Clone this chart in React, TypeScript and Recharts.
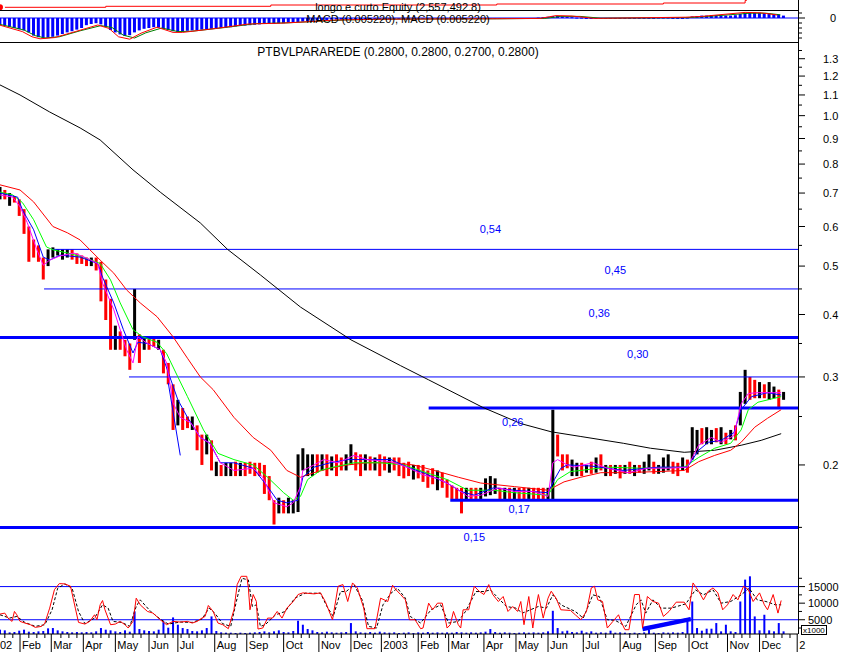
import React from 'react';
import { ComposedChart, Bar, Line, XAxis, YAxis, ReferenceLine, ReferenceDot } from 'recharts';

// one sampled bar every STEP trading sessions, session 0 = mid Jan 2002
const STEP = 3;
const X_DOMAIN: [number, number] = [0, 498];

// price bars (high / low, 1 = black bar, 0 = red bar)
const barHigh = [
  0.72, 0.71, 0.70, 0.69, 0.68, 0.65, 0.60, 0.565, 0.55, 0.52,
  0.54, 0.545, 0.54, 0.54, 0.54, 0.54, 0.53, 0.525, 0.52, 0.52,
  0.52, 0.51, 0.47, 0.43, 0.38, 0.37, 0.356, 0.35, 0.45, 0.365,
  0.36, 0.36, 0.36, 0.356, 0.34, 0.32, 0.29, 0.27, 0.26, 0.25,
  0.25, 0.24, 0.23, 0.23, 0.224, 0.203, 0.20, 0.202, 0.202, 0.203,
  0.202, 0.202, 0.203, 0.202, 0.202, 0.20, 0.19, 0.17, 0.172, 0.17,
  0.172, 0.17, 0.21, 0.216, 0.21, 0.21, 0.21, 0.21, 0.21, 0.208,
  0.21, 0.207, 0.21, 0.22, 0.212, 0.21, 0.21, 0.208, 0.207, 0.21,
  0.208, 0.207, 0.207, 0.207, 0.202, 0.203, 0.20, 0.20, 0.20, 0.195,
  0.197, 0.195, 0.193, 0.187, 0.182, 0.18, 0.18, 0.18, 0.18, 0.18,
  0.18, 0.188, 0.19, 0.188, 0.18, 0.18, 0.18, 0.18, 0.18, 0.18,
  0.18, 0.18, 0.18, 0.18, 0.18, 0.258, 0.23, 0.21, 0.21, 0.205,
  0.202, 0.202, 0.20, 0.203, 0.207, 0.21, 0.20, 0.20, 0.20, 0.20,
  0.20, 0.203, 0.20, 0.20, 0.203, 0.21, 0.203, 0.20, 0.207, 0.21,
  0.203, 0.202, 0.207, 0.205, 0.238, 0.235, 0.237, 0.238, 0.235, 0.237,
  0.238, 0.232, 0.235, 0.24, 0.28, 0.31, 0.30, 0.296, 0.293, 0.29,
  0.293, 0.287, 0.283, 0.28,
];
const barLow = [
  0.68, 0.68, 0.66, 0.67, 0.63, 0.58, 0.51, 0.52, 0.51, 0.47,
  0.50, 0.52, 0.525, 0.515, 0.52, 0.515, 0.505, 0.505, 0.50, 0.50,
  0.49, 0.425, 0.39, 0.34, 0.34, 0.34, 0.33, 0.31, 0.356, 0.32,
  0.34, 0.34, 0.345, 0.34, 0.305, 0.29, 0.235, 0.24, 0.235, 0.237,
  0.235, 0.214, 0.20, 0.21, 0.195, 0.19, 0.19, 0.19, 0.19, 0.19,
  0.19, 0.19, 0.192, 0.19, 0.19, 0.175, 0.17, 0.152, 0.16, 0.16,
  0.16, 0.16, 0.161, 0.195, 0.19, 0.19, 0.193, 0.195, 0.19, 0.195,
  0.19, 0.195, 0.195, 0.20, 0.195, 0.19, 0.195, 0.195, 0.195, 0.19,
  0.195, 0.193, 0.195, 0.19, 0.188, 0.19, 0.187, 0.188, 0.185, 0.18,
  0.183, 0.178, 0.18, 0.172, 0.171, 0.17, 0.16, 0.17, 0.171, 0.17,
  0.171, 0.173, 0.174, 0.175, 0.171, 0.17, 0.171, 0.17, 0.171, 0.17,
  0.171, 0.17, 0.17, 0.17, 0.17, 0.17, 0.208, 0.195, 0.197, 0.19,
  0.19, 0.19, 0.193, 0.192, 0.193, 0.195, 0.19, 0.19, 0.192, 0.188,
  0.192, 0.192, 0.19, 0.193, 0.192, 0.195, 0.192, 0.192, 0.193, 0.195,
  0.192, 0.19, 0.195, 0.193, 0.205, 0.21, 0.22, 0.22, 0.22, 0.222,
  0.22, 0.22, 0.225, 0.224, 0.24, 0.265, 0.27, 0.272, 0.272, 0.272,
  0.27, 0.272, 0.26, 0.27,
];
const barUp = [
  1, 0, 1, 0, 0, 0, 0, 0, 0, 0,
  1, 1, 1, 1, 1, 0, 0, 0, 0, 1,
  0, 0, 0, 0, 1, 0, 0, 0, 1, 0,
  1, 0, 0, 1, 0, 0, 0, 1, 0, 0,
  1, 0, 0, 1, 0, 1, 0, 1, 1, 0,
  1, 0, 0, 0, 0, 0, 0, 0, 1, 0,
  1, 1, 1, 1, 1, 1, 0, 1, 0, 1,
  0, 0, 1, 1, 0, 0, 1, 0, 1, 0,
  0, 1, 0, 0, 0, 0, 1, 0, 0, 0,
  0, 1, 0, 0, 0, 0, 0, 1, 0, 0,
  1, 1, 1, 1, 0, 1, 0, 1, 0, 0,
  1, 0, 0, 0, 1, 1, 0, 0, 0, 1,
  1, 0, 1, 0, 1, 0, 1, 0, 1, 0,
  1, 0, 1, 0, 1, 1, 0, 1, 1, 1,
  0, 0, 1, 0, 1, 1, 0, 1, 1, 0,
  1, 0, 1, 0, 1, 1, 0, 0, 1, 0,
  1, 1, 0, 1,
];

// volume (x1000), same sampling as the bars
const volume = [
  2000, 1800, 1200, 1300, 1700, 2000, 1400, 1300, 1500, 1600,
  2400, 2500, 1800, 1500, 1300, 1200, 1300, 1200, 1300, 1200,
  1500, 2500, 2000, 1800, 1500, 1300, 1800, 1400, 7500, 2200,
  1800, 1600, 1500, 2000, 4500, 2600, 5700, 3500, 2500, 2200,
  1600, 1500, 1800, 2500, 6000, 1600, 1200, 1100, 1100, 1000,
  1100, 1000, 1100, 1200, 1300, 1500, 1200, 1500, 1800, 1300,
  1200, 1600, 4700, 3500, 2200, 1800, 1300, 1200, 1400, 1200,
  1100, 1200, 1300, 4000, 1500, 1200, 1100, 1300, 1100, 1400,
  1200, 1100, 1200, 1000, 1100, 1200, 1000, 1200, 1100, 1300,
  1100, 1200, 1100, 1200, 1100, 1300, 1200, 1100, 1200, 1100,
  1200, 1400, 2200, 1300, 1100, 1200, 1100, 1000, 1100, 1200,
  1100, 1200, 1100, 1200, 1500, 7700, 2500, 1500, 1700, 1300,
  1200, 1700, 1200, 1500, 1100, 1200, 1100, 1700, 1100, 1200,
  1100, 1000, 1100, 1000, 1200, 1900, 1100, 1000, 1200, 1100,
  1200, 1100, 1300, 4500, 10500, 2500, 1700, 2300, 2300, 4000,
  1500, 3500, 1500, 1300, 10500, 17100, 18100, 6000, 1800, 6500,
  1800, 1500, 4000, 1500,
];

// MACD histogram, same sampling as the bars
const macdHist = [
  -0.017, -0.019, -0.022, -0.025, -0.028, -0.031, -0.036, -0.044, -0.048, -0.05,
  -0.049, -0.047, -0.044, -0.04, -0.036, -0.033, -0.029, -0.025, -0.018, -0.015,
  -0.013, -0.016, -0.022, -0.03, -0.036, -0.041, -0.045, -0.043, -0.036, -0.031,
  -0.027, -0.025, -0.023, -0.024, -0.027, -0.03, -0.033, -0.035, -0.034, -0.032,
  -0.031, -0.03, -0.029, -0.028, -0.027, -0.026, -0.025, -0.024, -0.023, -0.021,
  -0.02, -0.019, -0.018, -0.017, -0.016, -0.015, -0.014, -0.014, -0.013, -0.013,
  -0.012, -0.011, -0.01, -0.009, -0.008, -0.007, -0.006, -0.005, -0.005, -0.004,
  -0.004, -0.004, -0.003, -0.003, -0.003, -0.002, -0.003, -0.002, -0.002, -0.003,
  -0.002, -0.002, -0.003, -0.002, -0.002, -0.002, -0.003, -0.002, -0.002, -0.003,
  -0.003, -0.002, -0.003, -0.003, -0.003, -0.003, -0.003, -0.002, -0.002, -0.002,
  -0.001, -0.001, -0.001, -0.002, -0.002, -0.002, -0.002, -0.002, -0.002, -0.002,
  -0.002, -0.001, 0.001, 0.002, 0.003, 0.005, 0.005, 0.004, 0.003, 0.002,
  0.001, 0.001, 0, -0.001, -0.001, -0.001, -0.001, -0.001, -0.001, -0.001,
  -0.001, -0.001, -0.001, -0.001, 0, 0, 0, 0.001, 0.001, 0.001,
  0, 0, 0, 0.001, 0.004, 0.005, 0.006, 0.006, 0.007, 0.007,
  0.006, 0.006, 0.006, 0.007, 0.01, 0.012, 0.013, 0.013, 0.013, 0.012,
  0.011, 0.01, 0.008, 0.006,
];

// [session, value] series
const macdLine = [
  [0, -0.018], [14, -0.034], [20, -0.047], [25, -0.052], [34, -0.049], [47, -0.034], [61, -0.0175],
  [68, -0.026], [74, -0.047], [81, -0.053], [88, -0.038], [98, -0.023], [108, -0.036], [114, -0.036],
  [135, -0.026], [155, -0.015], [175, -0.013], [189, -0.01], [209, -0.005], [236, -0.003], [303, -0.002],
  [337, -0.001], [347, 0.006], [357, 0.005], [371, -0.001], [428, 0.002], [438, 0.004], [465, 0.014],
  [475, 0.013], [485, 0.0075],
];
const macdSignal = [
  [0, -0.016], [15, -0.03], [22, -0.044], [28, -0.05], [37, -0.047], [50, -0.032], [63, -0.019],
  [70, -0.024], [77, -0.043], [84, -0.05], [91, -0.037], [101, -0.025], [111, -0.034], [120, -0.033],
  [140, -0.024], [160, -0.014], [180, -0.012], [195, -0.009], [215, -0.005], [240, -0.003], [310, -0.002],
  [340, -0.001], [350, 0.004], [362, 0.004], [375, -0.0005], [430, 0.001], [442, 0.004], [468, 0.012],
  [478, 0.012], [487, 0.008],
];
const equity = [
  [0, 729000], [66, 999000], [169, 1350000], [310, 1620000], [414, 1890000], [465, 2557492.8], [466, 2557492.8],
];

const ma200 = [
  [0, 1.152], [12.5, 1.10], [31, 1.017], [50, 0.945], [62.5, 0.894], [83, 0.779], [100, 0.703], [125, 0.61],
  [142, 0.54], [162.5, 0.48], [187.5, 0.414], [219, 0.356], [250, 0.316], [267.5, 0.296], [301, 0.261],
  [325, 0.242], [344, 0.233], [362.5, 0.228], [389, 0.221], [406, 0.216], [427, 0.212], [446, 0.214],
  [462.5, 0.219], [475, 0.224], [487.5, 0.231],
];
const maRed = [
  [0, 0.727], [12.5, 0.71], [21, 0.672], [33, 0.6], [42, 0.583], [50, 0.564], [62.5, 0.514], [71, 0.484],
  [79, 0.448], [87.5, 0.422], [98, 0.396], [108, 0.361], [117, 0.327], [125, 0.3], [133, 0.283], [146, 0.249],
  [158, 0.227], [169, 0.214], [179, 0.195], [187.5, 0.189], [196, 0.193], [206, 0.197], [217, 0.2],
  [229, 0.202], [244, 0.202], [258, 0.2], [271, 0.195], [286, 0.189], [300, 0.184], [321, 0.181],
  [342, 0.178], [352, 0.185], [362.5, 0.189], [375, 0.193], [389, 0.193], [411, 0.194], [427, 0.195],
  [436, 0.203], [446, 0.209], [456, 0.214], [462.5, 0.222], [471, 0.238], [479, 0.248], [487.5, 0.258],
];
const maGreen = [
  [0, 0.703], [8, 0.694], [14, 0.67], [21, 0.619], [29, 0.546], [33, 0.539], [42, 0.531], [52, 0.521],
  [62.5, 0.506], [69, 0.469], [75, 0.422], [83, 0.373], [89, 0.361], [98, 0.352], [104, 0.334], [111, 0.3],
  [117, 0.274], [127, 0.235], [136, 0.211], [146, 0.205], [158, 0.2], [167, 0.189], [177, 0.176],
  [183, 0.17], [187.5, 0.173], [192, 0.187], [200, 0.195], [208, 0.198], [221, 0.202], [237.5, 0.202],
  [252, 0.2], [264, 0.194], [279, 0.187], [292, 0.178], [308, 0.178], [321, 0.176], [342, 0.174],
  [348, 0.187], [356, 0.194], [362.5, 0.195], [379, 0.198], [400, 0.197], [427, 0.198], [436, 0.207],
  [446, 0.216], [456, 0.221], [462.5, 0.235], [467, 0.258], [473, 0.267], [487.5, 0.274],
];
const maBlue = [
  [0, 0.7], [11, 0.687], [14, 0.648], [21, 0.591], [27, 0.521], [31, 0.514], [37.5, 0.526], [50, 0.521],
  [61, 0.506], [64, 0.475], [71, 0.422], [77, 0.373], [83, 0.335], [86, 0.352], [92, 0.35], [100, 0.34],
  [106, 0.3], [111, 0.27], [117, 0.249], [125, 0.227], [131, 0.221], [137.5, 0.202], [146, 0.202],
  [158, 0.197], [167, 0.181], [173, 0.17], [179, 0.168], [186, 0.17], [189, 0.189], [196, 0.198],
  [206, 0.202], [217, 0.205], [229, 0.205], [244, 0.205], [254, 0.198], [264, 0.193], [279, 0.184],
  [287.5, 0.177], [296, 0.174], [308, 0.18], [321, 0.178], [342, 0.176], [346, 0.187], [350, 0.197],
  [354, 0.2], [369, 0.199], [389, 0.195], [411, 0.198], [429, 0.198], [436, 0.214], [442, 0.222],
  [450, 0.224], [458, 0.232], [462.5, 0.258], [469, 0.274], [479, 0.279], [487.5, 0.276],
];
const maMagenta = [
  [0, 0.694], [8, 0.687], [12.5, 0.657], [17, 0.611], [23, 0.539], [27, 0.502], [31, 0.514], [37.5, 0.524],
  [46, 0.531], [54, 0.519], [61, 0.506], [64, 0.462], [71, 0.409], [79, 0.34], [83, 0.32], [86, 0.361],
  [92, 0.35], [100, 0.34], [104, 0.32], [108, 0.266], [112.5, 0.249], [119, 0.243], [125, 0.227],
  [131, 0.221], [137.5, 0.202], [146, 0.195], [158, 0.197], [164, 0.189], [171, 0.168], [179, 0.165],
  [183, 0.168], [187.5, 0.181], [189, 0.195], [196, 0.2], [202, 0.205], [211, 0.202], [221, 0.209],
  [229, 0.205], [244, 0.203], [254, 0.198], [264, 0.191], [273, 0.188], [283, 0.181], [292, 0.173],
  [300, 0.174], [311, 0.18], [321, 0.177], [333, 0.177], [342, 0.173], [345, 0.202], [348, 0.205],
  [354, 0.2], [358, 0.198], [370, 0.202], [379, 0.197], [392, 0.193], [404, 0.197], [417, 0.197],
  [429, 0.198], [436, 0.219], [444, 0.227], [450, 0.222], [458, 0.229], [462.5, 0.265], [467, 0.278],
  [473, 0.279], [483, 0.279], [487.5, 0.279],
];
const trendPrice = [[105, 0.292], [112.5, 0.209]];

const oscRed = [
  [0, 6700], [3, 7000], [5, 5500], [7.5, 4500], [9, 7500], [10.5, 6500], [12.5, 4500], [15.5, 4000],
  [19, 3500], [22, 2700], [26, 3000], [28, 4000], [31, 8500], [34, 14100], [37, 15900], [40.5, 15800],
  [44, 15100], [47, 8500], [49, 4200], [53, 3700], [56, 4500], [59, 6500], [60.5, 5000], [62.5, 9500],
  [64, 10800], [65.5, 8000], [69, 3500], [72, 3700], [75, 4500], [78, 3500], [80, 2500], [83, 4500],
  [85, 11500], [87.5, 9500], [92, 7500], [95.5, 7000], [100, 5000], [104, 3500], [108, 4500],
  [112.5, 4300], [117, 4500], [120, 4000], [123, 4500], [126, 5500], [128, 6000], [130, 9300], [133, 7500],
  [136, 4000], [139, 3500], [142.5, 2300], [146, 8000], [148, 15600], [150.5, 18100], [154, 18100],
  [155, 14600], [156, 8000], [158, 12600], [160, 10500], [161, 2200], [164, 2500], [167, 5500], [170, 5500],
  [173, 7500], [176, 5500], [179, 8500], [183, 10500], [186, 12600], [189, 13100], [196, 12800],
  [200, 13100], [203, 10500], [207.5, 5000], [211, 15100], [214, 15600], [217, 10500], [220, 16100],
  [223, 14600], [227, 8500], [229, 2300], [234, 2300], [237.5, 11500], [242, 10500], [245, 15400],
  [247, 14100], [250, 12600], [253, 11000], [255.5, 5000], [259, 5000], [262.5, 2300], [264, 2500],
  [267.5, 10000], [270, 8000], [273, 10000], [276, 10000], [279, 2500], [281, 3500], [283, 7500],
  [286, 3500], [287.5, 2500], [289, 8000], [292.5, 8000], [296, 15100], [299, 13600], [302, 12600],
  [305, 15600], [307.5, 12600], [311, 10500], [314, 12000], [317, 7500], [320, 9000], [323, 7500],
  [325, 10500], [327, 3500], [330, 12000], [332.5, 2500], [334, 7500], [336, 12600], [339, 5500],
  [342, 11500], [344, 13600], [347, 11500], [350, 8000], [356, 7800], [359, 6500], [362.5, 5000],
  [366, 7500], [369, 14600], [371, 15100], [373, 11000], [376, 10500], [379, 2500], [382.5, 4500],
  [386, 6500], [387.5, 4500], [390, 2000], [392.5, 2000], [396, 12600], [399, 12600], [401, 2500],
  [404, 12000], [407.5, 10500], [411, 10000], [414, 6000], [417.5, 7500], [422, 10300], [427, 10300],
  [430, 8000], [432.5, 16100], [436, 13600], [439, 11000], [442, 13600], [445, 14600], [448, 13100],
  [451, 8000], [454, 9500], [457.5, 12600], [460.5, 11000], [464, 15100], [467, 14100], [470, 10500],
  [474, 13100], [477, 9500], [479, 8000], [482.5, 12600], [485.5, 7000], [487.5, 10800],
];
const oscBlack = [
  [0, 6500], [6, 5500], [10.5, 6000], [15.5, 4200], [22, 3000], [28, 3500], [32.5, 8000], [36, 14500],
  [40.5, 15800], [45, 14500], [49, 7500], [53, 3800], [59, 5500], [64, 9500], [67.5, 8500], [70.5, 4500],
  [76, 4200], [81, 3000], [85, 9000], [87.5, 11000], [94, 7500], [100, 5200], [105, 3700], [112.5, 4300],
  [120, 4200], [126, 5200], [130.5, 8500], [134, 7000], [139, 3800], [144, 3000], [147.5, 10500],
  [151, 17500], [155, 17000], [157.5, 9000], [160, 9500], [162.5, 3000], [165.5, 3500], [172, 6500],
  [178, 7500], [184, 11500], [190.5, 13000], [200, 13000], [204, 9000], [208, 6000], [212.5, 13500],
  [216, 13500], [221, 15500], [226, 11000], [230, 3000], [235, 2500], [239, 9500], [244, 13000],
  [248, 14500], [253, 11500], [256, 6000], [262.5, 4000], [269, 8000], [275, 9500], [280, 4000],
  [286, 4500], [290.5, 7500], [297, 13500], [302, 13500], [306, 14000], [311, 11500], [316, 9000],
  [322, 8500], [326, 7000], [331, 8000], [336, 9000], [341, 8500], [345, 12500], [350, 9500],
  [359, 7500], [364, 5500], [370, 12500], [374, 12000], [379, 5000], [384, 4800], [390.5, 3000],
  [397, 9500], [400, 11000], [403, 7000], [407.5, 11000], [412.5, 8500], [419, 8500], [428, 9800],
  [434, 14000], [439, 12500], [445, 14000], [450, 10000], [456, 10500], [462.5, 12500], [467.5, 14500],
  [472.5, 11000], [478, 10500], [484, 9500], [487.5, 9500],
];
const volTrendA = [[401, 2100], [431, 5100]];
const volTrendB = [[401, 2600], [431, 5500]];

// horizontal support / resistance levels
const levelPrices = [0.54, 0.45, 0.36, 0.3, 0.26, 0.17, 0.15];
const levelStart = [32.5, 27.5, 0, 80.5, 267.5, 281, 0];
const thickLevels = [0.36, 0.26, 0.17, 0.15];
const levelText = ['0,54', '0,45', '0,36', '0,30', '0,26', '0,17', '0,15'];
const levelTextAt = [[306, 0.593], [384, 0.491], [374, 0.403], [398, 0.333], [320, 0.244], [324, 0.163], [296, 0.1435]];

// axis ticks
const monthTicks = [12.5, 32, 52, 72, 93, 111, 134, 154, 177, 199, 219, 238, 261, 280, 302, 322, 342, 364, 387, 409, 430, 454, 474, 497.5];
const monthLabels = ['Feb', 'Mar', 'Apr', 'May', 'Jun', 'Jul', 'Aug', 'Sep', 'Oct', 'Nov', 'Dec', '2003', 'Feb', 'Mar', 'Apr', 'May', 'Jun', 'Jul', 'Aug', 'Sep', 'Oct', 'Nov', 'Dec', '2'];
const priceLabels = [0.2, 0.3, 0.4, 0.5, 0.6, 0.7, 0.8, 0.9, 1.0, 1.1, 1.2, 1.3];
const priceMinor = [0.15, 0.25, 0.35, 0.45, 0.55, 0.65, 0.75, 0.85, 0.95, 1.05, 1.15, 1.25, 1.35];
const oscLabels = [5000, 10000, 15000];
const oscMinor = [2500, 7500, 12500, 17500];
const macdTicks = [-0.05, -0.0375, -0.025, -0.0125, 0, 0.0125];

const W = 845;
const PLOT_W = 798;
const AXIS_W = W - PLOT_W;
const FONT = '"Liberation Sans", Arial, sans-serif';
const BLUE = '#0000ff';
const RED = '#ff0000';
const noMargin = { top: 0, right: 0, bottom: 0, left: 0 };

const pairs = (arr: number[][]) => arr.map(([s, v]) => ({ s, v }));
const weekTicks: number[] = [];
for (let s = 3; s < 497; s += 5) {
  if (!monthTicks.some((m) => Math.abs(m - s) < 1.5)) weekTicks.push(s);
}

const barRows = barHigh.map((h, i) => ({ s: i * STEP, range: [barLow[i], h], up: barUp[i] }));
const volRows = volume.map((v, i) => ({ s: i * STEP, vol: v }));
const macdRows = macdHist.map((v, i) => ({ s: i * STEP, hist: v }));

// bars keep a fixed pixel width, whatever band size recharts derives from the line data
const fixedBar = (w: number, color?: (p: any) => string) => (props: any) => {
  const { x, y, width, height, payload, fill } = props;
  if (x == null || y == null) return <g />;
  const cx = x + width / 2;
  const top = Math.min(y, y + height);
  const h = Math.max(Math.abs(height), 1);
  return <rect x={cx - w / 2} y={top} width={w} height={h} fill={color ? color(payload) : fill} />;
};

const PriceTick = (props: any) => {
  const { x, y, payload } = props;
  const major = priceLabels.includes(payload.value);
  return (
    <g>
      <line x1={x} y1={y} x2={x + (major ? 7 : 4)} y2={y} stroke="#000" />
      {major && (
        <text x={x + 25} y={y + 4} fontSize={11} fill="#000">
          {payload.value.toFixed(1)}
        </text>
      )}
    </g>
  );
};

const OscTick = (props: any) => {
  const { x, y, payload } = props;
  const major = oscLabels.includes(payload.value);
  return (
    <g>
      <line x1={x} y1={y} x2={x + (major ? 7 : 4)} y2={y} stroke="#000" />
      {major && (
        <text x={x + 10} y={y + 4} fontSize={11} fill="#000">
          {payload.value}
        </text>
      )}
    </g>
  );
};

const MacdTick = (props: any) => {
  const { x, y, payload } = props;
  const zero = payload.value === 0;
  return (
    <g>
      <line x1={x} y1={y} x2={x + (zero ? 7 : 4)} y2={y} stroke="#000" />
      {zero && (
        <text x={x + 32} y={y + 4} fontSize={11} fill="#000">
          0
        </text>
      )}
    </g>
  );
};

const DateTick = (props: any) => {
  const { x, y, payload } = props;
  if (payload.value === 0) {
    return (
      <text x={x} y={y + 15} fontSize={11} fill="#000">
        02
      </text>
    );
  }
  const idx = monthTicks.indexOf(payload.value);
  if (idx < 0) return <line x1={x} y1={y} x2={x} y2={y + 4} stroke="#000" />;
  return (
    <g>
      <line x1={x} y1={y} x2={x} y2={y + 18} stroke="#000" />
      <text x={x + 2} y={y + 15} fontSize={11} fill="#000">
        {monthLabels[idx]}
      </text>
    </g>
  );
};

const hiddenX = <XAxis dataKey="s" type="number" domain={X_DOMAIN} allowDataOverflow hide />;

export default function App() {
  return (
    <div style={{ position: 'absolute', left: 0, top: 0, width: W, height: 652, background: '#fff', fontFamily: FONT, overflow: 'hidden' }}>
      {/* equity strip */}
      <div style={{ position: 'absolute', left: 0, top: 0 }}>
        <ComposedChart width={W} height={10} margin={{ ...noMargin, right: AXIS_W }}>
          {hiddenX}
          <YAxis hide domain={[0, 2700000]} allowDataOverflow />
          <Line data={pairs(equity)} dataKey="v" type="stepAfter" stroke={RED} dot={false} isAnimationActive={false} />
        </ComposedChart>
      </div>

      {/* MACD */}
      <div style={{ position: 'absolute', left: 0, top: 10 }}>
        <ComposedChart width={W} height={32} data={macdRows} margin={noMargin}>
          {hiddenX}
          <YAxis orientation="right" width={AXIS_W} domain={[-0.06, 0.02]} allowDataOverflow ticks={macdTicks} interval={0}
            tick={<MacdTick />} tickLine={false} axisLine={false} tickSize={0} tickMargin={0} />
          <Bar dataKey="hist" fill={BLUE} shape={fixedBar(3)} isAnimationActive={false} />
          <ReferenceLine y={0} stroke={BLUE} />
          <Line data={pairs(macdSignal)} dataKey="v" stroke="#008000" dot={false} isAnimationActive={false} />
          <Line data={pairs(macdLine)} dataKey="v" stroke={RED} dot={false} isAnimationActive={false} />
        </ComposedChart>
      </div>

      {/* price */}
      <div style={{ position: 'absolute', left: 0, top: 42 }}>
        <ComposedChart width={W} height={526} data={barRows} margin={noMargin}>
          {hiddenX}
          <YAxis orientation="right" width={AXIS_W} scale="log" domain={[0.1244, 1.404]} allowDataOverflow
            ticks={[...priceLabels, ...priceMinor]} interval={0} tick={<PriceTick />} tickLine={false} axisLine={false}
            tickSize={0} tickMargin={0} />
          {levelPrices.map((p, i) => (
            <ReferenceLine key={'lv' + i} segment={[{ x: levelStart[i], y: p }, { x: X_DOMAIN[1], y: p }]}
              stroke={BLUE} strokeWidth={thickLevels.includes(p) ? 3 : 1} />
          ))}
          <Bar dataKey="range" shape={fixedBar(3, (d) => (d.up ? '#000000' : RED))} isAnimationActive={false} />
          <Line data={pairs(ma200)} dataKey="v" stroke="#000" dot={false} isAnimationActive={false} />
          <Line data={pairs(maRed)} dataKey="v" stroke={RED} dot={false} isAnimationActive={false} />
          <Line data={pairs(maGreen)} dataKey="v" stroke="#00ff00" dot={false} isAnimationActive={false} />
          <Line data={pairs(maBlue)} dataKey="v" stroke={BLUE} dot={false} isAnimationActive={false} />
          <Line data={pairs(maMagenta)} dataKey="v" stroke="#ff00ff" dot={false} isAnimationActive={false} />
          <ReferenceLine segment={[{ x: trendPrice[0][0], y: trendPrice[0][1] }, { x: trendPrice[1][0], y: trendPrice[1][1] }]} stroke={BLUE} />
          {levelText.map((t, i) => (
            <ReferenceDot key={'lt' + i} x={levelTextAt[i][0]} y={levelTextAt[i][1]} r={0} stroke="none"
              label={{ value: t, position: 'center', fill: BLUE, fontSize: 11 }} />
          ))}
        </ComposedChart>
      </div>

      {/* oscillator + volume + dates */}
      <div style={{ position: 'absolute', left: 0, top: 570 }}>
        <ComposedChart width={W} height={82} data={volRows} margin={noMargin}>
          <XAxis dataKey="s" type="number" domain={X_DOMAIN} allowDataOverflow height={18}
            ticks={[0, ...monthTicks, ...weekTicks]} interval={0} tick={<DateTick />} tickLine={false}
            tickSize={0} tickMargin={0} axisLine={{ stroke: '#000' }} />
          <YAxis orientation="right" width={AXIS_W} domain={[700, 20000]} allowDataOverflow
            ticks={[...oscLabels, ...oscMinor]} interval={0} tick={<OscTick />} tickLine={false} axisLine={false}
            tickSize={0} tickMargin={0} />
          <ReferenceLine y={15000} stroke={BLUE} />
          <ReferenceLine y={5000} stroke={BLUE} />
          <Bar dataKey="vol" fill={BLUE} shape={fixedBar(2)} isAnimationActive={false} />
          <ReferenceLine segment={[{ x: volTrendA[0][0], y: volTrendA[0][1] }, { x: volTrendA[1][0], y: volTrendA[1][1] }]} stroke={BLUE} strokeWidth={4} />
          <ReferenceLine segment={[{ x: volTrendB[0][0], y: volTrendB[0][1] }, { x: volTrendB[1][0], y: volTrendB[1][1] }]} stroke={BLUE} strokeWidth={2} />
          <Line data={pairs(oscBlack)} dataKey="v" stroke="#000" strokeDasharray="3 2" dot={false} isAnimationActive={false} />
          <Line data={pairs(oscRed)} dataKey="v" stroke={RED} dot={false} isAnimationActive={false} />
        </ComposedChart>
      </div>

      {/* frame and titles */}
      <svg width={W} height={652} style={{ position: 'absolute', left: 0, top: 0, pointerEvents: 'none' }}>
        <line x1={PLOT_W + 0.5} y1={0} x2={PLOT_W + 0.5} y2={634} stroke="#000" />
        <line x1={0} y1={10.5} x2={PLOT_W} y2={10.5} stroke="#000" />
        <line x1={0} y1={42.5} x2={PLOT_W} y2={42.5} stroke="#000" />
        <text x={398} y={11} fontSize={11} textAnchor="middle" fill="#000">longo e curto Equity (2,557,492.8)</text>
        <text x={398} y={23} fontSize={11} textAnchor="middle" fill="#000">MACD (0.005220), MACD (0.005220)</text>
        <text x={398} y={56} fontSize={12} textAnchor="middle" fill="#000">PTBVLPARAREDE (0.2800, 0.2800, 0.2700, 0.2800)</text>
        <rect x={801.5} y={625.5} width={25} height={9} fill="#fff" stroke="#000" />
        <text x={803} y={633} fontSize={8} fill="#000">x1000</text>
      </svg>
    </div>
  );
}
